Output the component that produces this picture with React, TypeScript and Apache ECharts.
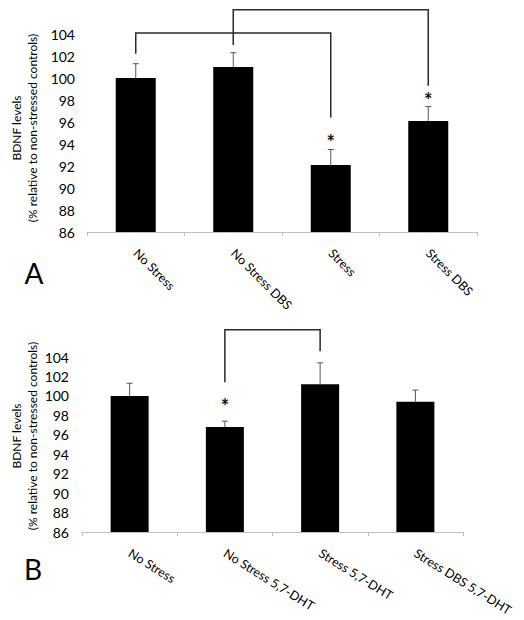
import React, { useEffect, useRef } from "react";
import * as echarts from "echarts";

const categoriesA = ["No Stress", "No Stress DBS", "Stress", "Stress DBS"];
const valuesA = [100, 101, 92.1, 96.1];
const errorsA = [1.3, 1.3, 1.4, 1.3];
const bracketsA = [
  { from: 0, to: 2, fromY: 102.2, topY: 104.1, toY: 96.4 },
  { from: 1, to: 3, fromY: 103.0, topY: 106.2, toY: 99.3 },
];
const starsA = [
  { idx: 2, y: 94.6 },
  { idx: 3, y: 98.5 },
];

const categoriesB = ["No Stress", "No Stress 5,7-DHT", "Stress 5,7-DHT", "Stress DBS 5,7-DHT"];
const valuesB = [100, 96.8, 101.2, 99.4];
const errorsB = [1.3, 0.6, 2.2, 1.2];
const bracketsB = [{ from: 1, to: 2, fromY: 101.4, topY: 106.8, toY: 104.6 }];
const starsB = [{ idx: 1, y: 99.5 }];

const yMin = 86;
const yMax = 104;
const yStep = 2;

const FONT = "Lato, 'Liberation Sans', sans-serif";

function errorSeries(values: number[], errors: number[], gi: number) {
  return {
    type: "custom",
    xAxisIndex: gi,
    yAxisIndex: gi,
    z: 5,
    data: values.map((v, i) => [i, v, errors[i]]),
    renderItem: (params: any, api: any) => {
      const i = params.dataIndex;
      const v = values[i];
      const e = errors[i];
      const p0 = api.coord([i, v]);
      const p1 = api.coord([i, v + e]);
      return {
        type: "group",
        children: [
          { type: "line", shape: { x1: p0[0], y1: p0[1], x2: p1[0], y2: p1[1] }, style: { stroke: "#555", lineWidth: 1 } },
          { type: "line", shape: { x1: p1[0] - 3, y1: p1[1], x2: p1[0] + 3, y2: p1[1] }, style: { stroke: "#555", lineWidth: 1 } },
        ],
      };
    },
  };
}

function bracketSeries(brackets: any[], gi: number) {
  return {
    type: "custom",
    xAxisIndex: gi,
    yAxisIndex: gi,
    z: 6,
    clip: false,
    data: brackets.map((b) => [b.from, b.topY]),
    renderItem: (params: any, api: any) => {
      const b = brackets[params.dataIndex];
      const a = api.coord([b.from, b.fromY]);
      const t1 = api.coord([b.from, b.topY]);
      const t2 = api.coord([b.to, b.topY]);
      const c = api.coord([b.to, b.toY]);
      return {
        type: "polyline",
        shape: { points: [a, t1, t2, c] },
        style: { stroke: "#2a2a2a", lineWidth: 1.5, fill: "none" },
      };
    },
  };
}

function starSeries(stars: any[], gi: number) {
  return {
    type: "custom",
    xAxisIndex: gi,
    yAxisIndex: gi,
    z: 7,
    clip: false,
    data: stars.map((s) => [s.idx, s.y]),
    renderItem: (params: any, api: any) => {
      const s = stars[params.dataIndex];
      const p = api.coord([s.idx, s.y]);
      return {
        type: "text",
        x: p[0],
        y: p[1] + 5,
        style: {
          text: "*",
          fill: "#111",
          font: `bold 20px ${FONT}`,
          textAlign: "center",
          textVerticalAlign: "middle",
        },
      };
    },
  };
}

export default function App() {
  const ref = useRef<HTMLDivElement>(null);
  useEffect(() => {
    if (!ref.current) return;
    const chart = echarts.init(ref.current, undefined, { renderer: "svg" });
    const xAxisCommon = (cats: string[], rotate: number, margin: number) => ({
      type: "category",
      data: cats,
      axisLine: { lineStyle: { color: "#bfbfbf", width: 1 } },
      axisTick: { show: true, length: 4, lineStyle: { color: "#bfbfbf" } },
      axisLabel: { rotate, margin, color: "#000", fontFamily: FONT, fontSize: 12.5, interval: 0 },
    });
    const yAxisCommon = (margin: number) => ({
      type: "value",
      min: yMin,
      max: yMax,
      interval: yStep,
      axisLine: { show: false },
      axisTick: { show: false },
      splitLine: { show: false },
      axisLabel: { margin, color: "#000", fontFamily: FONT, fontSize: 14 },
    });
    const titleText = (x: number, y: number, text: string) => ({
      type: "text",
      x,
      y,
      rotation: Math.PI / 2,
      style: { text, fill: "#000", font: `12px ${FONT}`, textAlign: "center", textVerticalAlign: "middle" },
    });
    chart.setOption({
      animation: false,
      backgroundColor: "#fff",
      grid: [
        { left: 87, right: 47, top: 34, height: 198 },
        { left: 82, right: 61, top: 357, height: 175 },
      ],
      xAxis: [
        { ...xAxisCommon(categoriesA, -45, 19), gridIndex: 0 },
        { ...xAxisCommon(categoriesB, -32, 20), gridIndex: 1 },
      ],
      yAxis: [
        { ...yAxisCommon(12), gridIndex: 0 },
        { ...yAxisCommon(13), gridIndex: 1 },
      ],
      graphic: [
        titleText(16, 128, "BDNF levels"),
        titleText(32, 128, "(% relative to non-stressed controls)"),
        titleText(16, 436, "BDNF levels"),
        titleText(32, 436, "(% relative to non-stressed controls)"),
        {
          type: "text",
          x: 34,
          y: 273,
          style: { text: "A", fill: "#000", font: `28px ${FONT}`, textAlign: "center", textVerticalAlign: "middle" },
        },
        {
          type: "text",
          x: 33,
          y: 569,
          style: { text: "B", fill: "#000", font: `28px ${FONT}`, textAlign: "center", textVerticalAlign: "middle" },
        },
      ],
      series: [
        { type: "bar", xAxisIndex: 0, yAxisIndex: 0, data: valuesA, barWidth: 40, itemStyle: { color: "#000" } },
        { type: "bar", xAxisIndex: 1, yAxisIndex: 1, data: valuesB, barWidth: 38, itemStyle: { color: "#000" } },
        errorSeries(valuesA, errorsA, 0),
        errorSeries(valuesB, errorsB, 1),
        bracketSeries(bracketsA, 0),
        bracketSeries(bracketsB, 1),
        starSeries(starsA, 0),
        starSeries(starsB, 1),
      ],
    });
    return () => chart.dispose();
  }, []);
  return (
    <div
      ref={ref}
      style={{ position: "fixed", left: 0, top: 0, width: 524, height: 620, background: "#fff" }}
    />
  );
}
